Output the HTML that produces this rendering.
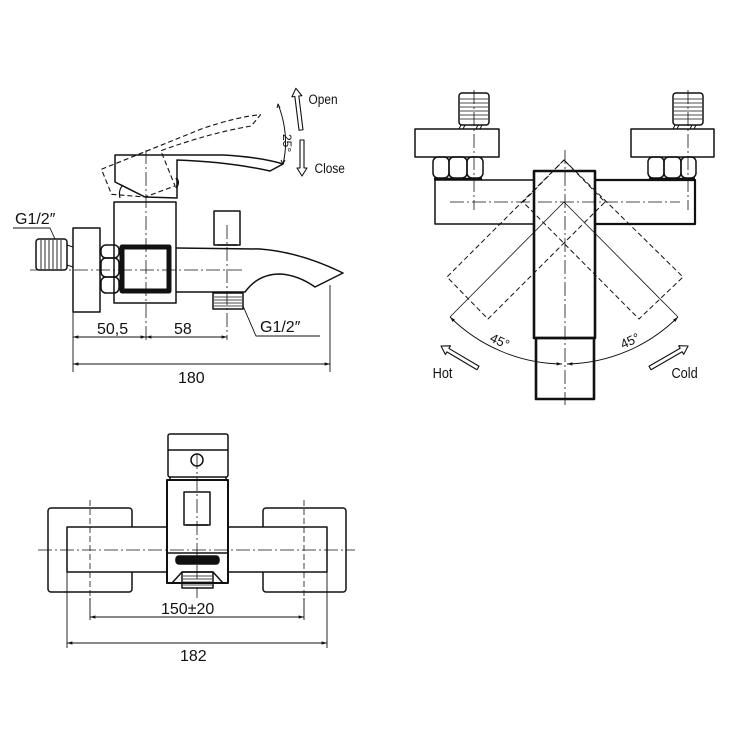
<!DOCTYPE html>
<html><head><meta charset="utf-8"><style>
html,body{margin:0;padding:0;background:#fff}
svg{display:block}
text{font-family:"Liberation Sans",sans-serif;fill:#111}
</style></head><body>
<svg width="730" height="730" viewBox="0 0 730 730" xmlns="http://www.w3.org/2000/svg">
<defs>
<marker id="ar" viewBox="0 0 10 10" refX="10" refY="5" markerWidth="9" markerHeight="6" orient="auto-start-reverse"><path d="M0,2 L10,5 L0,8 Z" fill="#111"/></marker>
</defs>
<g fill="none" stroke="#111" stroke-width="1.5" stroke-linejoin="round">
<!-- ========== SIDE VIEW ========== -->
<path d="M115,155 L223,155 Q260,157 283,164 L270,171 Q230,162 177,160 L177,198 L145,197 L115,182 Z"/>
<path d="M120,198 Q118,190 123,185" stroke-width="1.2"/>
<path d="M176,178 Q180,182 176,188" stroke-width="2"/>
<path d="M115,155 L223,155 Q260,157 283,164 L270,171 Q230,162 177,160 L177,198 L145,197 L115,182 Z" stroke-dasharray="5 3" stroke-width="1.1" transform="rotate(-22 145 197)"/>
<path d="M278,104 Q290,135 283,164" stroke-width="1"/>
<path d="M277,108 L278,104 L280,108" stroke-width="1"/>
<path d="M281,160 L283,164 L285,160" stroke-width="1"/>
<rect x="114" y="202" width="62" height="101"/>
<rect x="122" y="247" width="47" height="44" stroke-width="5"/>
<rect x="73" y="228" width="27" height="84"/>
<rect x="36" y="239" width="31" height="31" rx="3"/>
<g stroke-width="0.9"><line x1="41" y1="240" x2="41" y2="269"/><line x1="45" y1="240" x2="45" y2="269"/><line x1="49" y1="240" x2="49" y2="269"/><line x1="53" y1="240" x2="53" y2="269"/><line x1="57" y1="240" x2="57" y2="269"/><line x1="61" y1="240" x2="61" y2="269"/></g>
<path d="M67,245 L73,247 M67,265 L73,267" stroke-width="1"/>
<rect x="101" y="245" width="18" height="13" rx="5"/>
<rect x="101" y="258" width="18" height="19" rx="5"/>
<rect x="101" y="277" width="18" height="16" rx="5"/>
<path d="M176,248 L260,249 Q300,252 343,273 L315,287 Q298,275 280,274 Q258,274 245,292 L176,292"/>
<rect x="214" y="211" width="26" height="34"/>
<line x1="217" y1="245" x2="237" y2="245"/>
<rect x="213" y="293" width="30" height="16"/>
<g stroke-width="0.8"><line x1="214" y1="297" x2="242" y2="297"/><line x1="214" y1="300" x2="242" y2="300"/><line x1="214" y1="303" x2="242" y2="303"/><line x1="214" y1="306" x2="242" y2="306"/></g>
<g stroke-width="0.8" stroke-dasharray="14 3 2 3">
<line x1="30" y1="270" x2="245" y2="270"/>
<line x1="146" y1="150" x2="146" y2="340"/>
<line x1="227" y1="225" x2="227" y2="340"/>
</g>
<g stroke-width="0.9">
<line x1="73" y1="312" x2="73" y2="372"/>
<line x1="330" y1="285" x2="330" y2="372"/>
<line x1="73" y1="337" x2="146" y2="337" marker-start="url(#ar)" marker-end="url(#ar)"/>
<line x1="146" y1="337" x2="227" y2="337" marker-start="url(#ar)" marker-end="url(#ar)"/>
<line x1="73" y1="364" x2="330" y2="364" marker-start="url(#ar)" marker-end="url(#ar)"/>
<path d="M13,228 L50,228 L55,239"/>
<path d="M243,306 L256,336 L320,336"/>
</g>
<polygon points="0,-2 34,-2 34,-5 42,0 34,5 34,2 0,2" stroke-width="1.1" transform="translate(301,130) rotate(-97)"/>
<polygon points="0,-2 28,-2 28,-5 36,0 28,5 28,2 0,2" stroke-width="1.1" transform="translate(302,140) rotate(90)"/>

<!-- ========== TOP RIGHT VIEW ========== -->
<rect x="459" y="93" width="30" height="32" rx="3"/>
<g stroke-width="0.8"><line x1="460" y1="99" x2="488" y2="99"/><line x1="460" y1="103" x2="488" y2="103"/><line x1="460" y1="107" x2="488" y2="107"/><line x1="460" y1="111" x2="488" y2="111"/><line x1="460" y1="115" x2="488" y2="115"/><line x1="460" y1="119" x2="488" y2="119"/></g>
<path d="M461,125 L459,129 M465,125 L463,129 M478,125 L476,129 M482,125 L480,129" stroke-width="1"/>
<rect x="415" y="129" width="84" height="28"/>
<rect x="433" y="157" width="16" height="21" rx="5"/>
<rect x="449" y="157" width="18" height="21" rx="5"/>
<rect x="467" y="157" width="16" height="21" rx="5"/>
<line x1="434" y1="179" x2="482" y2="179" stroke-width="2.5"/>
<rect x="673" y="93" width="30" height="32" rx="3"/>
<g stroke-width="0.8"><line x1="674" y1="99" x2="702" y2="99"/><line x1="674" y1="103" x2="702" y2="103"/><line x1="674" y1="107" x2="702" y2="107"/><line x1="674" y1="111" x2="702" y2="111"/><line x1="674" y1="115" x2="702" y2="115"/><line x1="674" y1="119" x2="702" y2="119"/></g>
<path d="M675,125 L673,129 M679,125 L677,129 M692,125 L690,129 M696,125 L694,129" stroke-width="1"/>
<rect x="631" y="129" width="83" height="28"/>
<rect x="648" y="157" width="16" height="21" rx="5"/>
<rect x="664" y="157" width="17" height="21" rx="5"/>
<rect x="681" y="157" width="15" height="21" rx="5"/>
<line x1="649" y1="179" x2="695" y2="179" stroke-width="2.5"/>
<path d="M534,180 L435,180 L435,224 L534,224"/>
<path d="M595,180 L695,180 L695,224 L595,224" stroke-width="2.2"/>
<g stroke-dasharray="5 3" stroke-width="1">
<path d="M564,160 L447,277 L488,319 L605,202 Z"/>
<path d="M564,160 L683,277 L639,319 L523,202 Z"/>
</g>
<rect x="534" y="171" width="61" height="167" stroke-width="2.6"/>
<rect x="536" y="338" width="58" height="61" stroke-width="2.6"/>
<g stroke-width="0.8" stroke-dasharray="14 3 2 3">
<line x1="450" y1="202" x2="680" y2="202"/>
<line x1="565" y1="150" x2="565" y2="405"/>
<line x1="474" y1="90" x2="474" y2="210"/>
<line x1="688" y1="90" x2="688" y2="210"/>
</g>
<line x1="564" y1="202" x2="450" y2="317" stroke-width="0.8"/>
<line x1="564" y1="202" x2="678" y2="317" stroke-width="0.8"/>
<path d="M450,317 A162,162 0 0 0 562,364" stroke-width="0.9" marker-start="url(#ar)" marker-end="url(#ar)"/>
<path d="M678,317 A162,162 0 0 1 567,364" stroke-width="0.9" marker-start="url(#ar)" marker-end="url(#ar)"/>
<polygon points="0,-2 35,-2 35,-5 43,0 35,5 35,2 0,2" stroke-width="1.1" transform="translate(478,368) rotate(210.7)"/>
<polygon points="0,-2 36,-2 36,-5 44,0 36,5 36,2 0,2" stroke-width="1.1" transform="translate(650,368) rotate(-30)"/>

<!-- ========== BOTTOM VIEW ========== -->
<rect x="48" y="508" width="84" height="84" rx="3"/>
<rect x="263" y="508" width="83" height="84" rx="3"/>
<rect x="67" y="527" width="260" height="45" fill="#fff"/>
<rect x="167" y="480" width="61" height="103" fill="#fff" stroke-width="2"/>
<line x1="167" y1="553" x2="228" y2="553"/>
<rect x="168" y="434" width="60" height="43" rx="2"/>
<line x1="168" y1="450" x2="228" y2="450"/>
<line x1="170" y1="477" x2="170" y2="480"/><line x1="226" y1="477" x2="226" y2="480"/>
<circle cx="197" cy="460" r="6"/>
<rect x="184" y="492" width="26" height="33"/>
<line x1="186" y1="525" x2="208" y2="525"/>
<rect x="176" y="556" width="43" height="8" rx="3" fill="#111"/>
<path d="M172,583 L182,572 L213,572 L223,583"/>
<rect x="182" y="572" width="31" height="16"/>
<g stroke-width="0.8"><line x1="183" y1="576" x2="212" y2="576"/><line x1="183" y1="579" x2="212" y2="579"/><line x1="183" y1="582" x2="212" y2="582"/><line x1="183" y1="585" x2="212" y2="585"/></g>
<g stroke-width="0.8" stroke-dasharray="14 3 2 3">
<line x1="38" y1="550" x2="355" y2="550"/>
<line x1="197" y1="455" x2="197" y2="598"/>
</g>
<g stroke-width="0.8" stroke-dasharray="6 3">
<line x1="90" y1="500" x2="90" y2="600"/>
<line x1="304" y1="500" x2="304" y2="600"/>
</g>
<g stroke-width="0.9">
<line x1="90" y1="598" x2="90" y2="620"/>
<line x1="304" y1="598" x2="304" y2="620"/>
<line x1="67" y1="572" x2="67" y2="648"/>
<line x1="327" y1="572" x2="327" y2="648"/>
<line x1="90" y1="617" x2="304" y2="617" marker-start="url(#ar)" marker-end="url(#ar)"/>
<line x1="67" y1="643" x2="327" y2="643" marker-start="url(#ar)" marker-end="url(#ar)"/>
</g>
</g>
<text x="15" y="224" font-size="16">G1/2″</text>
<text x="260" y="332" font-size="16">G1/2″</text>
<text x="97" y="334" font-size="16">50,5</text>
<text x="174" y="334" font-size="16">58</text>
<text x="178" y="383" font-size="16">180</text>
<text x="309" y="104" font-size="14" transform="scale(0.85 1) translate(54 0)">Open</text>
<text x="315" y="173" font-size="14" transform="scale(0.85 1) translate(55 0)">Close</text>
<text x="283" y="134" font-size="12" transform="rotate(90 283 134)">25°</text>
<text x="433" y="378" font-size="15" transform="scale(0.85 1) translate(76 0)">Hot</text>
<text x="672" y="378" font-size="15" transform="scale(0.85 1) translate(118 0)">Cold</text>
<text x="489" y="341" font-size="13" transform="rotate(25 489 341)">45°</text>
<text x="623" y="349" font-size="13" transform="rotate(-25 623 349)">45°</text>
<text x="161" y="614" font-size="16">150±20</text>
<text x="180" y="661" font-size="16">182</text>
</svg>
</body></html>
